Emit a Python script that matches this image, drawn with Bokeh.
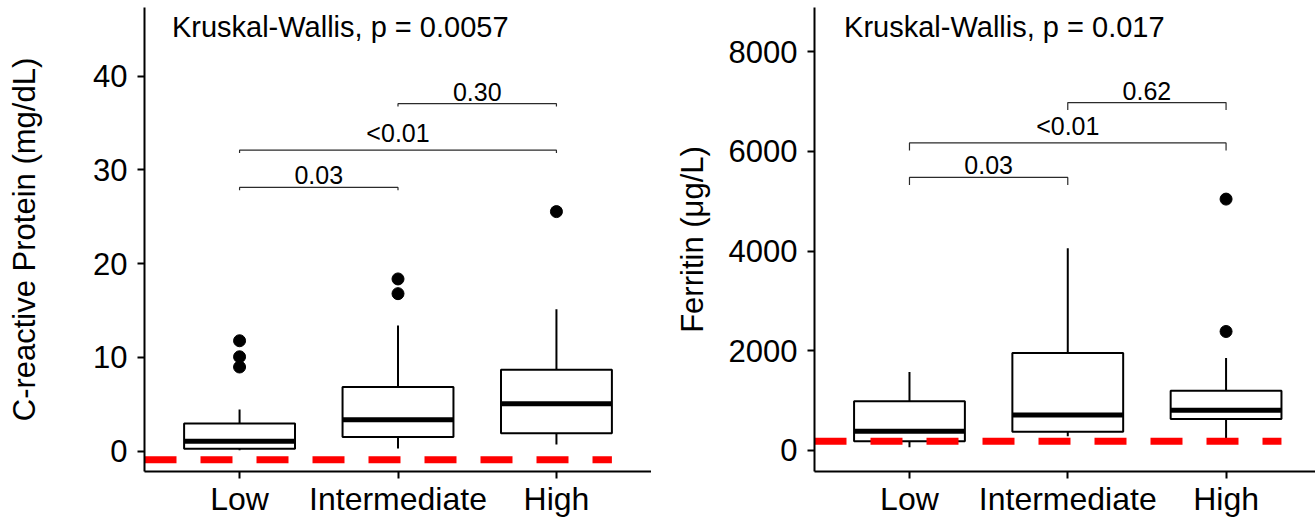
from bokeh.plotting import figure
from bokeh.models import FixedTicker, Range1d
from bokeh.layouts import row
from bokeh.embed import file_html
from bokeh.resources import INLINE
from bokeh.core.properties import value

categories = ["Low", "Intermediate", "High"]

# C-reactive protein (mg/dL)
crp_lower = [0.10, 0.29, 0.71]
crp_q1 = [0.26, 1.53, 1.91]
crp_median = [1.06, 3.37, 5.07]
crp_q3 = [2.95, 6.85, 8.69]
crp_upper = [4.44, 13.4, 15.15]
crp_outlier_group = ["Low", "Low", "Low", "Intermediate", "Intermediate", "High"]
crp_outlier_value = [11.78, 10.07, 8.98, 18.37, 16.8, 25.55]
crp_reference = -0.91
crp_kw_label = "Kruskal-Wallis, p = 0.0057"
crp_pairs = [("Low", "Intermediate"), ("Low", "High"), ("Intermediate", "High")]
crp_pair_y = [28.13, 32.1, 37.06]
crp_pair_labels = ["0.03", "<0.01", "0.30"]
crp_ticks = [0, 10, 20, 30, 40]

# Ferritin (ug/L)
fer_lower = [60, 280, 248]
fer_q1 = [180, 369, 629]
fer_median = [381, 709, 802]
fer_q3 = [982, 1952, 1196]
fer_upper = [1571, 4056, 1852]
fer_outlier_group = ["High", "High"]
fer_outlier_value = [5044, 2385]
fer_reference = 180
fer_kw_label = "Kruskal-Wallis, p = 0.017"
fer_pairs = [("Low", "Intermediate"), ("Low", "High"), ("Intermediate", "High")]
fer_pair_y = [5479, 6172, 6982]
fer_pair_labels = ["0.03", "<0.01", "0.62"]
fer_ticks = [0, 2000, 4000, 6000, 8000]

FONT = value("Liberation Sans")


def make_panel(width, border_left, x_end, y_start, y_end, ticks, ylabel, title_standoff,
               lower, q1, med, q3, upper, out_group, out_val, ref, kw_label, kw_x, kw_y,
               pairs, pair_y, pair_labels, tip, label_gap):
    p = figure(width=width, height=519, x_range=Range1d(0.4, x_end),
               y_range=Range1d(y_start, y_end), output_backend="svg",
               toolbar_location=None, min_border_left=border_left, min_border_right=0,
               min_border_top=7, min_border_bottom=47)
    p.outline_line_color = None
    p.xgrid.visible = False
    p.ygrid.visible = False
    p.background_fill_color = "white"

    pos = {c: i + 1 for i, c in enumerate(categories)}
    xs = [pos[c] for c in categories]

    for ax in (p.xaxis[0], p.yaxis[0]):
        ax.axis_line_width = 2
        ax.axis_line_color = "black"
        ax.major_tick_line_width = 2
        ax.major_tick_line_color = "black"
        ax.major_tick_out = 7
        ax.major_tick_in = 0
        ax.minor_tick_line_color = None
        ax.major_label_text_font = "Liberation Sans"
        ax.major_label_text_color = "black"

    p.xaxis.ticker = FixedTicker(ticks=xs)
    p.xaxis.major_label_overrides = {pos[c]: c for c in categories}
    p.xaxis.major_label_standoff = 2
    p.xaxis.major_label_text_font_size = "32px"

    p.yaxis.ticker = FixedTicker(ticks=ticks)
    p.yaxis.major_label_standoff = 10
    p.yaxis.major_label_text_font_size = "31px"
    p.yaxis.axis_label = ylabel
    p.yaxis.axis_label_text_font = "Liberation Sans"
    p.yaxis.axis_label_text_font_size = "31px"
    p.yaxis.axis_label_text_font_style = "normal"
    p.yaxis.axis_label_text_color = "black"
    p.yaxis.axis_label_standoff = title_standoff

    bw = 0.7
    # whiskers
    p.segment(x0=xs, y0=q3, x1=xs, y1=upper, line_color="black", line_width=2)
    p.segment(x0=xs, y0=lower, x1=xs, y1=q1, line_color="black", line_width=2)
    # boxes
    p.vbar(x=xs, width=bw, bottom=q1, top=q3, fill_color="white",
           line_color="black", line_width=2)
    # medians
    p.segment(x0=[x - bw / 2 for x in xs], y0=med, x1=[x + bw / 2 for x in xs], y1=med,
              line_color="black", line_width=5, line_cap="butt")
    # outliers
    p.scatter(x=[pos[g] for g in out_group], y=out_val, size=12,
              fill_color="black", line_color="black")

    # reference line
    p.segment(x0=[0.4], y0=[ref], x1=[3.35], y1=[ref], line_color="#FF0000",
              line_width=7, line_dash="32 24", line_cap="butt")

    # pairwise brackets
    bx, by, tx, ty = [], [], [], []
    for (a, b), yv in zip(pairs, pair_y):
        xa, xb = pos[a], pos[b]
        bx.append([xa, xa, xb, xb])
        by.append([yv - tip, yv, yv, yv - tip])
        tx.append((xa + xb) / 2)
        ty.append(yv + label_gap)
    p.multi_line(xs=bx, ys=by, line_color="#2b2b2b", line_width=1.2)
    p.text(x=tx, y=ty, text=pair_labels, text_align="center", text_baseline="bottom",
           text_font=FONT, text_font_size=value("25px"), text_color="black")

    # Kruskal-Wallis label
    p.text(x=[kw_x], y=[kw_y], text=[kw_label], text_align="left",
           text_baseline="bottom", text_font=FONT, text_font_size=value("29px"),
           text_color="black")
    return p


p1 = make_panel(651, 144, 3.6, -2.16, 47.31, crp_ticks, "C-reactive Protein (mg/dL)", 48,
                crp_lower, crp_q1, crp_median, crp_q3, crp_upper,
                crp_outlier_group, crp_outlier_value, crp_reference,
                crp_kw_label, 0.573, 43.5, crp_pairs, crp_pair_y, crp_pair_labels, 0.3, 0.32)

p2 = make_panel(664, 163, 3.565, -427, 8892, fer_ticks, "Ferritin (\u03bcg/L)", 16,
                fer_lower, fer_q1, fer_median, fer_q3, fer_upper,
                fer_outlier_group, fer_outlier_value, fer_reference,
                fer_kw_label, 0.587, 8180, fer_pairs, fer_pair_y, fer_pair_labels, 150, 60)

layout = row(p1, p2)
open("out.html", "w").write(file_html(layout, INLINE))
